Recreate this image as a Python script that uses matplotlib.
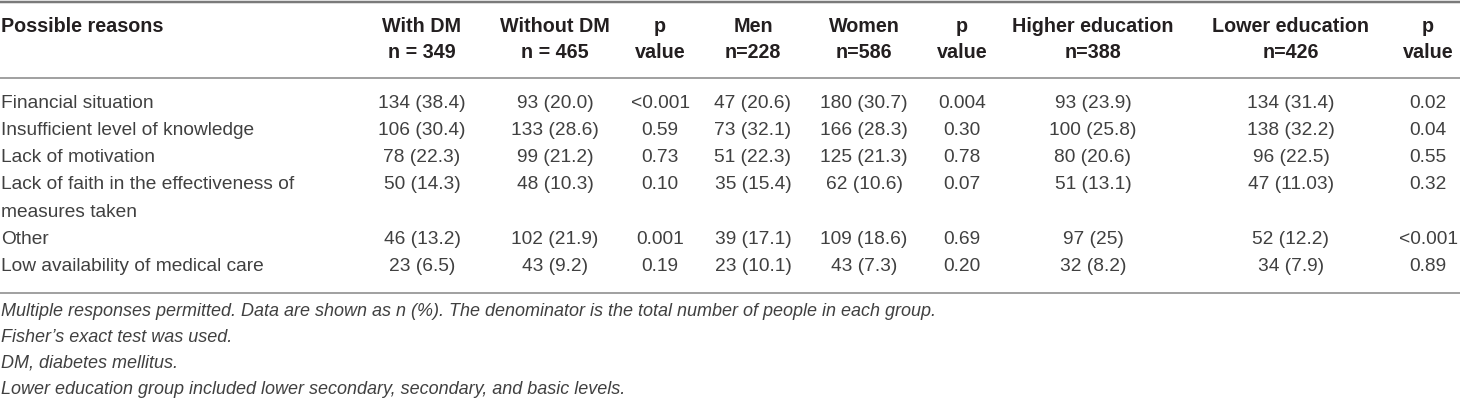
import matplotlib

matplotlib.use("Agg")
import matplotlib.pyplot as plt

# --- данные таблицы
reasons = [
    "Financial situation",
    "Insufficient level of knowledge",
    "Lack of motivation",
    "Lack of faith in the effectiveness of\nmeasures taken",
    "Other",
    "Low availability of medical care",
]
with_dm = ["134 (38.4)", "106 (30.4)", "78 (22.3)", "50 (14.3)", "46 (13.2)", "23 (6.5)"]
without_dm = ["93 (20.0)", "133 (28.6)", "99 (21.2)", "48 (10.3)", "102 (21.9)", "43 (9.2)"]
p_dm = ["<0.001", "0.59", "0.73", "0.10", "0.001", "0.19"]
men = ["47 (20.6)", "73 (32.1)", "51 (22.3)", "35 (15.4)", "39 (17.1)", "23 (10.1)"]
women = ["180 (30.7)", "166 (28.3)", "125 (21.3)", "62 (10.6)", "109 (18.6)", "43 (7.3)"]
p_sex = ["0.004", "0.30", "0.78", "0.07", "0.69", "0.20"]
higher_edu = ["93 (23.9)", "100 (25.8)", "80 (20.6)", "51 (13.1)", "97 (25)", "32 (8.2)"]
lower_edu = ["134 (31.4)", "138 (32.2)", "96 (22.5)", "47 (11.03)", "52 (12.2)", "34 (7.9)"]
p_edu = ["0.02", "0.04", "0.55", "0.32", "<0.001", "0.89"]

head_top = ["With DM", "Without DM", "p", "Men", "Women", "p",
            "Higher education", "Lower education", "p"]
head_bot = ["n = 349", "n = 465", "value", "n=228", "n=586", "value",
            "n=388", "n=426", "value"]

footnotes = [
    "Multiple responses permitted. Data are shown as n (%). The denominator is the total number of people in each group.",
    "Fisher\u2019s exact test was used.",
    "DM, diabetes mellitus.",
    "Lower education group included lower secondary, secondary, and basic levels.",
]

columns = [with_dm, without_dm, p_dm, men, women, p_sex, higher_edu, lower_edu, p_edu]

# --- геометрия (в пикселях)
W, H = 1460, 401
col_x = [422, 555, 660, 753, 864, 962, 1093, 1291, 1428]
row0, pitch = 103, 27.3
foot_y = [311, 337, 363, 389]

FONT = ["Liberation Sans", "DejaVu Sans"]
HEAD = "#231f20"
BODY = "#404040"

fig = plt.figure(figsize=(W / 100, H / 100), dpi=100)
ax = fig.add_axes([0, 0, 1, 1])
ax.set_xlim(0, W)
ax.set_ylim(H, 0)
ax.axis("off")

px = 72 / 100  # пиксели -> пункты
ax.axhline(1.5, color="#7a7a7a", lw=2.5 * px)
ax.axhline(78, color="#8c8c8c", lw=1.6 * px)
ax.axhline(293, color="#8c8c8c", lw=1.6 * px)

# шапка
ax.text(1, 27, "Possible reasons", ha="left", va="center", fontsize=14.2,
        fontweight="bold", family=FONT, color=HEAD)
for x, t, b in zip(col_x, head_top, head_bot):
    ax.text(x, 27, t, ha="center", va="center", fontsize=14.2,
            fontweight="bold", family=FONT, color=HEAD)
    ax.text(x, 53, b, ha="center", va="center", fontsize=14.2,
            fontweight="bold", family=FONT, color=HEAD)

# строки
slot = 0
for i, reason in enumerate(reasons):
    y = row0 + pitch * slot
    lines = reason.split("\n")
    for j, line in enumerate(lines):
        ax.text(1, y + pitch * j, line, ha="left", va="center", fontsize=13.8,
                family=FONT, color=BODY)
    for x, col in zip(col_x, columns):
        ax.text(x, y, col[i], ha="center", va="center", fontsize=13.8,
                family=FONT, color=BODY)
    slot += len(lines)

# примечания
for y, note in zip(foot_y, footnotes):
    ax.text(1, y, note, ha="left", va="center", fontsize=13.0, style="italic",
            family=FONT, color=BODY)

fig.savefig("out.png", dpi=100)
